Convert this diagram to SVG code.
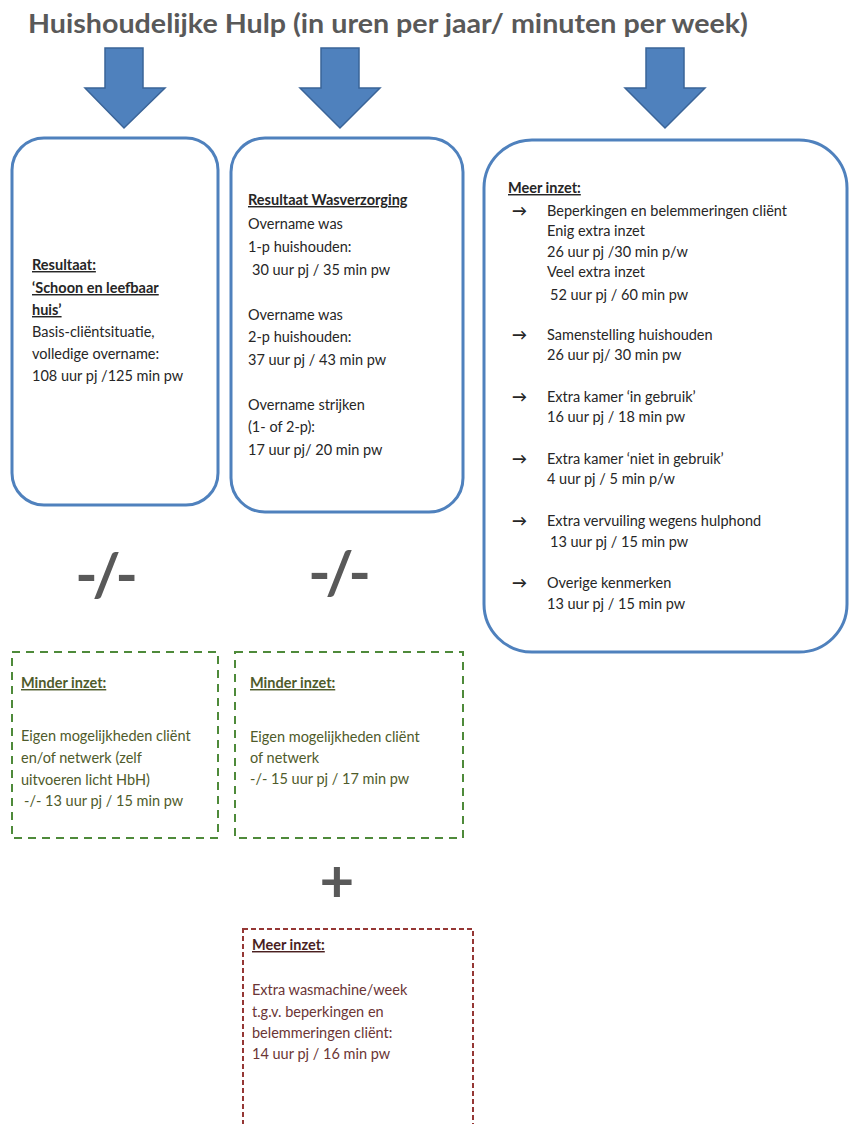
<svg xmlns="http://www.w3.org/2000/svg" width="849" height="1124" viewBox="0 0 849 1124">
<style>
.t{font-family:Lato,"Open Sans","Liberation Sans",sans-serif;font-size:14.5px;fill:#262626}
.b{font-weight:bold;text-decoration:underline}
.ar{font-weight:bold;font-size:15px}
.title{font-family:Lato,"Open Sans","Liberation Sans",sans-serif;font-size:26px;font-weight:bold;fill:#595959}
.big{font-family:Lato,"Open Sans","Liberation Sans",sans-serif;font-size:60px;font-weight:bold;fill:#595959;text-anchor:middle}
.blue{fill:#fff;stroke:#4F81BD;stroke-width:3}
.arrow{fill:#4F81BD;stroke:#3A6498;stroke-width:1.5}
.green{fill:none;stroke:#4E8A3A;stroke-width:2;stroke-dasharray:8 6}
.red{fill:none;stroke:#953735;stroke-width:2;stroke-dasharray:5 3}
.gt{fill:#4F5B2B}
.rt{fill:#6B3535}
.rh{fill:#4A1F1F}
</style>
<text class="title" x="28" y="33" textLength="720" lengthAdjust="spacingAndGlyphs">Huishoudelijke Hulp (in uren per jaar/ minuten per week)</text>
<g id="connectors">
<polygon class="arrow" points="105,48 143,48 143,88 165,88 124,128 85,88 105,88"/>
<polygon class="arrow" points="321,48 359,48 359,88 380,88 340,128 300,88 321,88"/>
<polygon class="arrow" points="646,48 684,48 684,88 705,88 665,128 625,88 646,88"/>
</g>
<g id="box1">
<rect class="blue" x="12" y="138" width="206" height="367" rx="32"/>
<text class="t"><tspan class="b" x="32" y="270">Resultaat:</tspan><tspan class="b" x="32" y="293">‘Schoon en leefbaar</tspan><tspan class="b" x="32" y="315">huis’</tspan><tspan x="32" y="337">Basis-cliëntsituatie,</tspan><tspan x="32" y="359">volledige overname:</tspan><tspan x="32" y="381">108 uur pj /125 min pw</tspan></text>
</g>
<g id="box2">
<rect class="blue" x="231" y="138" width="232" height="374" rx="34"/>
<text class="t"><tspan class="b" x="248" y="205">Resultaat Wasverzorging</tspan><tspan x="248" y="229">Overname was</tspan><tspan x="248" y="252">1-p huishouden:</tspan><tspan x="252" y="275">30 uur pj / 35 min pw</tspan><tspan x="248" y="320">Overname was</tspan><tspan x="248" y="342">2-p huishouden:</tspan><tspan x="248" y="365">37 uur pj /  43 min pw</tspan><tspan x="248" y="410">Overname strijken</tspan><tspan x="248" y="432">(1- of 2-p):</tspan><tspan x="248" y="455">17 uur pj/ 20 min pw</tspan></text>
</g>
<g id="box3">
<rect class="blue" x="484" y="140" width="363" height="512" rx="48"/>
<text class="t"><tspan class="b" x="508" y="193">Meer inzet:</tspan>
<tspan class="ar" x="512" y="216">→</tspan><tspan x="547" y="216">Beperkingen  en belemmeringen cliënt</tspan>
<tspan x="547" y="236">Enig extra inzet</tspan>
<tspan x="547" y="257">26  uur pj /30 min p/w</tspan>
<tspan x="547" y="277">Veel extra inzet</tspan>
<tspan x="550" y="300">52 uur pj /  60 min pw</tspan>
<tspan class="ar" x="512" y="340">→</tspan><tspan x="547" y="340">Samenstelling huishouden</tspan>
<tspan x="547" y="360">26 uur pj/ 30 min pw</tspan>
<tspan class="ar" x="512" y="402">→</tspan><tspan x="547" y="402">Extra kamer ‘in gebruik’</tspan>
<tspan x="547" y="422">16 uur pj /  18 min pw</tspan>
<tspan class="ar" x="512" y="464">→</tspan><tspan x="547" y="464">Extra kamer ‘niet in gebruik’</tspan>
<tspan x="547" y="484">4 uur pj / 5 min p/w</tspan>
<tspan class="ar" x="512" y="526">→</tspan><tspan x="547" y="526">Extra vervuiling wegens hulphond</tspan>
<tspan x="550" y="547">13 uur pj / 15 min pw</tspan>
<tspan class="ar" x="512" y="588">→</tspan><tspan x="547" y="588">Overige kenmerken</tspan>
<tspan x="547" y="609">13 uur pj /  15 min pw</tspan></text>
</g>
<g id="minus1"><text class="big" x="104" y="596" letter-spacing="-5">-/-</text></g>
<g id="minus2"><text class="big" x="337" y="594" letter-spacing="-5">-/-</text></g>
<g id="minder1">
<rect class="green" x="12" y="652" width="206" height="186"/>
<text class="t gt"><tspan class="b" x="21" y="688">Minder inzet:</tspan><tspan x="21" y="741">Eigen mogelijkheden  cliënt</tspan><tspan x="21" y="763">en/of netwerk (zelf</tspan><tspan x="21" y="785">uitvoeren licht HbH)</tspan><tspan x="24" y="806">-/- 13 uur pj /  15 min pw</tspan></text>
</g>
<g id="minder2">
<rect class="green" x="235" y="652" width="228" height="186"/>
<text class="t gt"><tspan class="b" x="250" y="688">Minder inzet:</tspan><tspan x="250" y="742">Eigen mogelijkheden  cliënt</tspan><tspan x="250" y="763">of netwerk</tspan><tspan x="250" y="784">-/- 15 uur pj /  17 min pw</tspan></text>
</g>
<g id="plus"><text class="big" x="337" y="902">+</text></g>
<g id="meer2">
<rect class="red" x="243" y="929" width="230" height="200"/>
<text class="t rt"><tspan class="b rh" x="252" y="950">Meer inzet:</tspan><tspan x="252" y="995">Extra wasmachine/week</tspan><tspan x="252" y="1017">t.g.v. beperkingen  en</tspan><tspan x="252" y="1038">belemmeringen cliënt:</tspan><tspan x="252" y="1059">14 uur pj / 16 min pw</tspan></text>
</g>
</svg>
